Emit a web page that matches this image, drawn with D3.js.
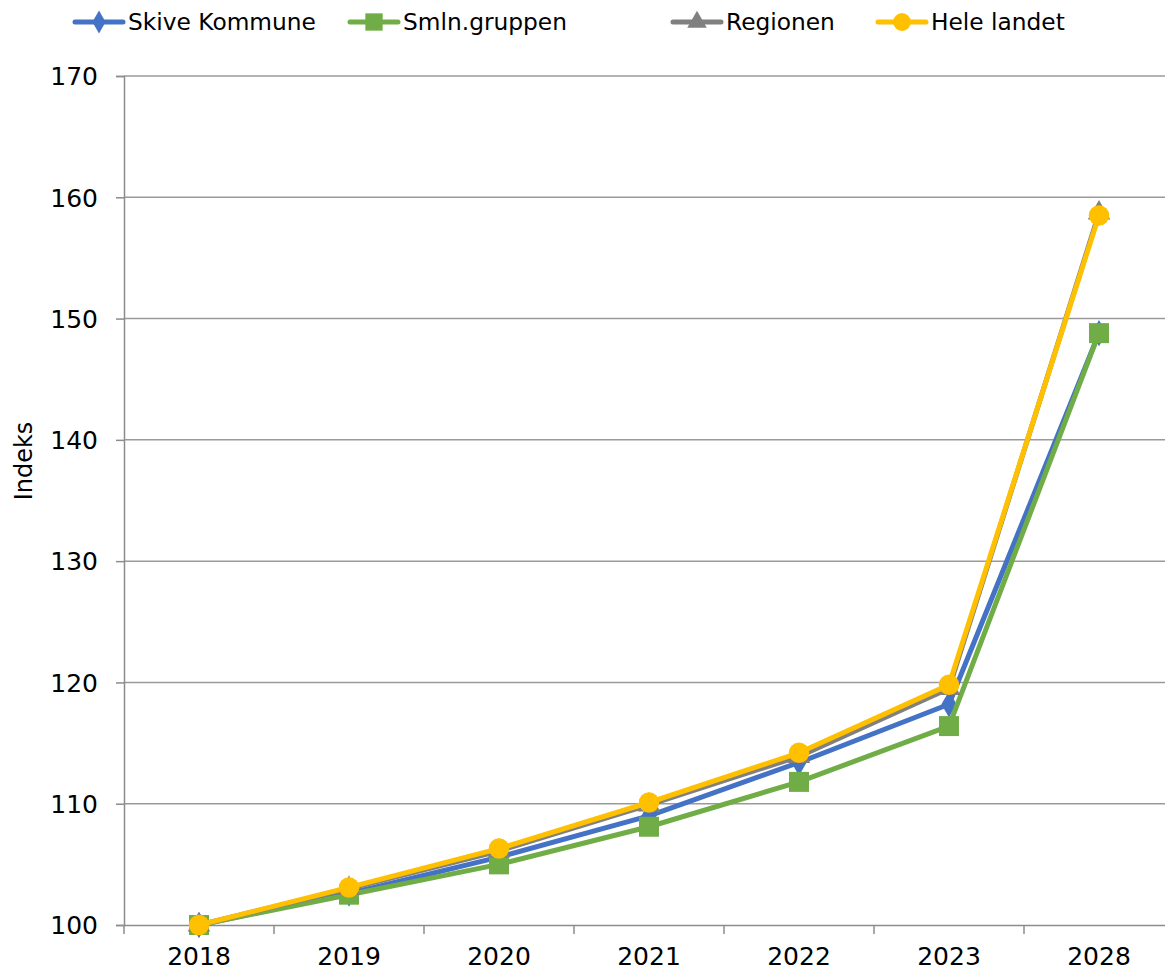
<!DOCTYPE html>
<html><head><meta charset="utf-8">
<script src="https://cdn.jsdelivr.net/npm/d3@7"></script>
<style>body{margin:0;background:#fff}svg{display:block}text{font-family:"DejaVu Sans",Verdana,sans-serif;fill:#000}</style>
</head><body><svg id="c" width="1165" height="974"></svg>
<script>
const categories = ["2018","2019","2020","2021","2022","2023","2028"];
const skive = [100,102.6,105.6,109.0,113.4,118.2,148.8];
const smln = [100,102.5,105.0,108.1,111.8,116.4,148.8];
const regionen = [100,103.0,106.1,109.9,113.9,119.5,158.7];
const heleLandet = [100,103.1,106.3,110.1,114.2,119.8,158.5];
const yTicks = [100,110,120,130,140,150,160,170];
const seriesNames = ["Skive Kommune","Smln.gruppen","Regionen","Hele landet"];
const seriesColors = ["#4472C4","#70AD47","#808080","#FFC000"];
const seriesShapes = [d3.symbolDiamond, d3.symbolSquare, d3.symbolTriangle, d3.symbolCircle];
const seriesSizes = [200, 400, 220, 330];
const seriesData = [skive, smln, regionen, heleLandet];

const svg = d3.select("#c");
const L = 124, T = 76, B = 925, R = 1174;
const x = d3.scaleBand().domain(categories).range([L, R]);
const y = d3.scaleLinear().domain([100,170]).range([B, T]);

// gridlines
svg.append("g").selectAll("line").data(yTicks.slice(1)).join("line")
  .attr("x1", L).attr("x2", 1165).attr("y1", d=>y(d)).attr("y2", d=>y(d))
  .attr("stroke", "#9a9a9a").attr("stroke-width", 1.5);

// y axis
const ya = svg.append("g").attr("transform", `translate(${L},0)`)
  .call(d3.axisLeft(y).tickValues(yTicks).tickSize(8).tickPadding(18).tickFormat(d3.format("d")));
ya.select(".domain").attr("stroke","#8c8c8c").attr("stroke-width",1.5);
ya.selectAll(".tick line").attr("stroke","#8c8c8c").attr("stroke-width",1.5);
ya.selectAll("text").style("font-size","25px").attr("dy","0.35em");

// x axis
const xa = svg.append("g").attr("transform", `translate(0,${B})`)
  .call(d3.axisBottom(x).tickSize(0).tickPadding(22));
xa.select(".domain").attr("stroke","#8c8c8c").attr("stroke-width",1.5);
xa.selectAll("text").style("font-size","25px").attr("dy","0.71em");
svg.append("g").selectAll("line").data(categories).join("line")
  .attr("x1", d=>x(d)).attr("x2", d=>x(d)).attr("y1", B).attr("y2", B+9)
  .attr("stroke","#8c8c8c").attr("stroke-width",1.5);

// y title
svg.append("text").attr("transform", `translate(32,461) rotate(-90)`)
  .attr("text-anchor","middle").style("font-size","24px").text("Indeks");

const cx = d => x(d) + x.bandwidth()/2;
const line = d3.line().x((d,i)=>cx(categories[i])).y(d=>y(d));

seriesData.forEach((data, s) => {
  const g = svg.append("g");
  g.append("path").datum(data).attr("d", line).attr("fill","none")
    .attr("stroke", seriesColors[s]).attr("stroke-width", 5).attr("stroke-linejoin","round").attr("stroke-linecap","round");
  g.selectAll("path.m").data(data).join("path").attr("class","m")
    .attr("transform",(d,i)=>`translate(${cx(categories[i])},${y(d)})`)
    .attr("d", d3.symbol().type(seriesShapes[s]).size(seriesSizes[s]))
    .attr("fill", seriesColors[s]);
});

// legend
const legX = [75, 350, 673, 878];
const lg = svg.append("g");
seriesNames.forEach((n, s) => {
  const g = lg.append("g").attr("transform", `translate(${legX[s]},22)`);
  g.append("line").attr("x1",0).attr("x2",48).attr("stroke",seriesColors[s]).attr("stroke-width",5).attr("stroke-linecap","round");
  g.append("path").attr("transform","translate(24,0)").attr("d", d3.symbol().type(seriesShapes[s]).size(seriesSizes[s]*0.75)).attr("fill",seriesColors[s]);
  g.append("text").attr("x",53).attr("dy","0.35em").style("font-size","23.3px").text(n);
});
</script></body></html>
